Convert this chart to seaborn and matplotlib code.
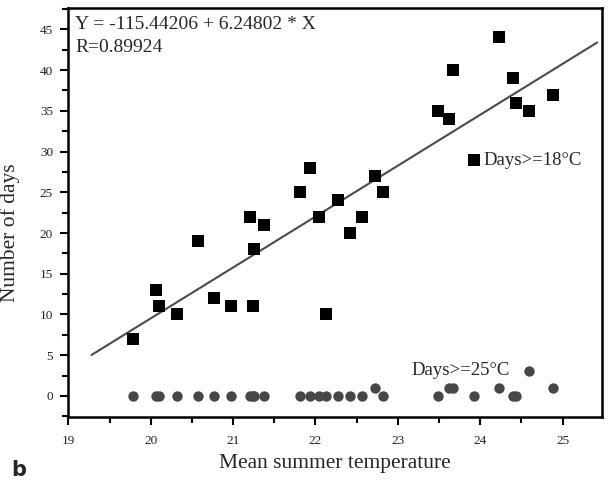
import numpy as np
import pandas as pd
import seaborn as sns
import matplotlib.pyplot as plt
from matplotlib.ticker import MultipleLocator

# mean summer temperature for each year (same x for both series)
temp = [19.79, 20.06, 20.10, 20.32, 20.57, 20.77, 20.97, 21.21, 21.24, 21.25,
        21.37, 21.81, 21.93, 22.04, 22.13, 22.27, 22.42, 22.56, 22.72, 22.82,
        23.49, 23.62, 23.67, 23.93, 24.23, 24.40, 24.44, 24.59, 24.88]
days18 = [7, 13, 11, 10, 19, 12, 11, 22, 11, 18,
          21, 25, 28, 22, 10, 24, 20, 22, 27, 25,
          35, 34, 40, 29, 44, 39, 36, 35, 37]
days25 = [0, 0, 0, 0, 0, 0, 0, 0, 0, 0,
          0, 0, 0, 0, 0, 0, 0, 0, 1, 0,
          0, 1, 1, 0, 1, 0, 0, 3, 1]

# fitted line as printed on the chart
intercept = -115.44206
slope = 6.24802
r_value = 0.89924
fit_range = [19.28, 25.42]

df = pd.DataFrame({'temp': temp, 'd18': days18, 'd25': days25})
fit = pd.DataFrame({'x': fit_range})
fit['y'] = intercept + slope * fit['x']

sns.set_style('ticks')
plt.rcParams['font.family'] = ['Liberation Serif', 'DejaVu Serif']

fig = plt.figure(figsize=(6.1, 4.8), dpi=100)
ax = fig.add_axes([0.112, 0.131, 0.875, 0.852])

sns.lineplot(data=fit, x='x', y='y', ax=ax, color='#4a4a4a', linewidth=1.5)
sns.scatterplot(data=df, x='temp', y='d18', ax=ax, marker='s', s=64,
                color='black', linewidth=0, zorder=3)
sns.scatterplot(data=df, x='temp', y='d25', ax=ax, marker='o', s=56,
                color='#474747', linewidth=0, zorder=3)

ax.set_xlim(19, 25.48)
ax.set_ylim(-2.6, 47.6)
ax.xaxis.set_major_locator(MultipleLocator(1))
ax.xaxis.set_minor_locator(MultipleLocator(0.5))
ax.yaxis.set_major_locator(MultipleLocator(5))
ax.yaxis.set_minor_locator(MultipleLocator(2.5))
ax.tick_params(which='major', length=6, width=1.5, labelsize=9.5,
               labelcolor='#222222', color='black', pad=7)
ax.tick_params(which='minor', length=4, width=1.5, color='black')
ax.tick_params(axis='y', which='major', pad=5)
for sp in ax.spines.values():
    sp.set_linewidth(1.8)
    sp.set_color('black')
    sp.set_visible(True)

ax.set_xlabel('Mean summer temperature', fontsize=15.5, labelpad=5)
ax.set_ylabel('Number of days', fontsize=15.5)
ax.yaxis.set_label_coords(-0.09, 0.45)

ax.text(0.013, 0.949, 'Y = -115.44206 + 6.24802 * X', transform=ax.transAxes,
        fontsize=14, va='baseline')
ax.text(0.013, 0.892, f'R={r_value}', transform=ax.transAxes,
        fontsize=14, va='baseline')
ax.text(24.04, 28.9, 'Days>=18°C', fontsize=13.5, va='center')
ax.text(23.17, 3.1, 'Days>=25°C', fontsize=13.5, va='center')

fig.text(0.018, 0.008, 'b', fontsize=15, fontweight='bold',
         family='DejaVu Sans', va='baseline')

fig.savefig('out.png', dpi=100)
